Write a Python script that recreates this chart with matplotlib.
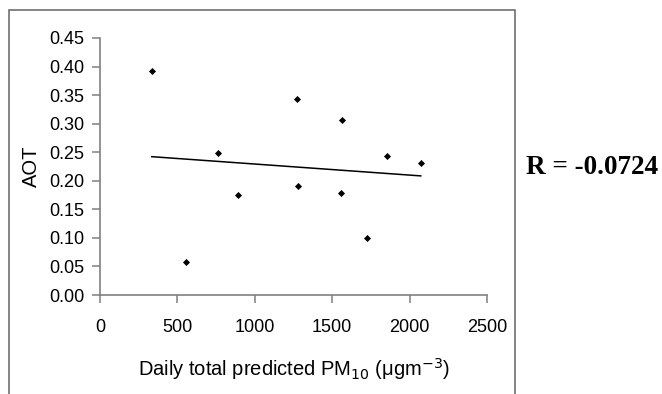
import numpy as np
import matplotlib
matplotlib.use("Agg")
import matplotlib.pyplot as plt
from matplotlib.patches import Rectangle

# Daily total predicted PM10 versus aerosol optical thickness
pm10 = [334, 553, 764, 893, 1270, 1277, 1555, 1565, 1727, 1856, 2072]
aot = [0.393, 0.057, 0.249, 0.175, 0.343, 0.191, 0.179, 0.306, 0.099, 0.243, 0.232]
x_ticks = [0, 500, 1000, 1500, 2000, 2500]
y_ticks = [0.00, 0.05, 0.10, 0.15, 0.20, 0.25, 0.30, 0.35, 0.40, 0.45]
r_text = "R = -0.0724"

plt.rcParams["font.family"] = ["Liberation Sans", "DejaVu Sans"]

W, H = 662, 394
fig = plt.figure(figsize=(W / 100, H / 100), dpi=100)

# outer chart frame (open at the bottom)
frame = Rectangle((9 / W, -0.1), (515 - 9) / W, 1.1 - 10 / H,
                  transform=fig.transFigure, fill=False,
                  edgecolor="#707070", linewidth=1.2)
fig.patches.append(frame)

ax = fig.add_axes([100 / W, 1 - 295 / H, (487 - 100) / W, (295 - 38) / H])
ax.scatter(pm10, aot, marker="D", s=13, color="black", zorder=3, linewidths=0)

# linear trend line
slope, intercept = np.polyfit(pm10, aot, 1)
xs = np.array([min(pm10), max(pm10)])
ax.plot(xs, slope * xs + intercept, color="black", linewidth=1.1)

ax.set_xlim(0, 2500)
ax.set_ylim(0, 0.45)
ax.set_xticks(x_ticks)
ax.set_yticks(y_ticks)
ax.set_xticklabels([str(v) for v in x_ticks])
ax.set_yticklabels([f"{v:.2f}" for v in y_ticks])

for side in ("top", "right"):
    ax.spines[side].set_visible(False)
for side in ("left", "bottom"):
    ax.spines[side].set_color("#808080")
    ax.spines[side].set_linewidth(1.2)
ax.tick_params(direction="out", length=6, width=1.1, color="#808080",
               labelsize=13, labelcolor="black", pad=5)
ax.tick_params(axis="x", pad=11)

ax.set_xlabel("Daily total predicted PM$_{10}$ (\u03bcgm$^{-3}$)", fontsize=14.5, labelpad=15)
ax.set_ylabel("AOT", fontsize=14.5, labelpad=6)

fig.text(526 / W, 1 - 167 / H, r_text, fontsize=19.5, fontweight="bold",
         family="Liberation Serif", va="center", ha="left")

fig.savefig("out.png", dpi=100)
